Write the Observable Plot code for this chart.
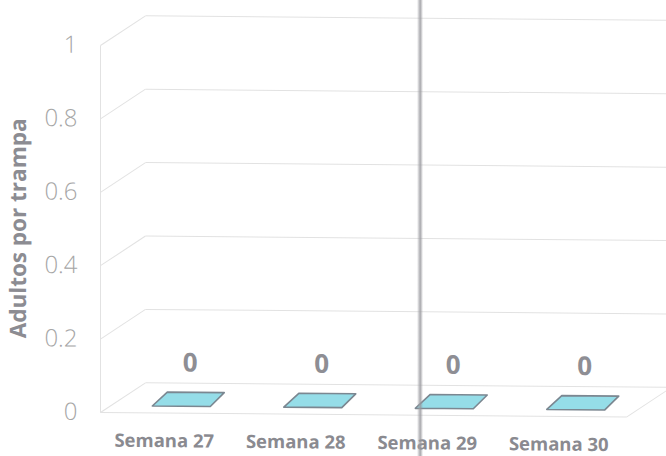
<!DOCTYPE html>
<html><head><meta charset="utf-8">
<script src="https://cdn.jsdelivr.net/npm/d3@7"></script>
<script src="https://cdn.jsdelivr.net/npm/@observablehq/plot@0.6"></script>
<style>
html,body{margin:0;padding:0;background:#fff;overflow:hidden}
#chart{position:relative;width:666px;height:456px}
#fold{position:absolute;left:417px;top:0;width:6px;height:456px;pointer-events:none;
background:linear-gradient(to right, rgba(200,200,205,0), rgba(160,160,165,0.7) 40%, rgba(150,150,155,0.75) 60%, rgba(200,200,205,0));}
</style></head><body>
<div id="chart"><div id="fold"></div></div>
<script>
const categories = ["Semana 27", "Semana 28", "Semana 29", "Semana 30"];
const values = [0, 0, 0, 0];
const yTicks = [0, 0.2, 0.4, 0.6, 0.8, 1];
const yTitle = "Adultos por trampa";

// 3D look: depth offset of the back wall, in data units
const DX = 0.342, DY = 0.082;
const xLo = -0.5, xHi = categories.length - 0.5;

const bars = categories.map((c, i) => ({c, i, v: values[i]}));
const faceOffsets = [[-0.106, 0.019], [0.335, 0.019], [0.441, 0.057], [0.008, 0.057], [-0.106, 0.019]];
const faces = bars.flatMap(b => faceOffsets.map(([ox, oy]) => ({c: b.c, x: b.i + ox, y: b.v + oy})));

const gridLinks = [
  ...yTicks.map(v => ({x1: xLo + DX, y1: v + DY, x2: xHi + DX + 0.3, y2: v + DY})),
  ...yTicks.map(v => ({x1: xLo, y1: v, x2: xLo + DX, y2: v + DY})),
  {x1: xLo, y1: 0, x2: xHi, y2: 0},
  {x1: xHi, y1: 0, x2: xHi + DX, y2: DY},
  {x1: xLo, y1: 0, x2: xLo, y2: 1}
];

const chart = Plot.plot({
  width: 666, height: 456,
  marginLeft: 100, marginRight: 40, marginTop: 45, marginBottom: 44,
  x: {domain: [xLo, xHi], axis: null},
  y: {domain: [0, 1], axis: null},
  style: {fontFamily: "'Open Sans', sans-serif", background: "transparent", overflow: "visible"},
  marks: [
    Plot.link(gridLinks, {x1: "x1", y1: "y1", x2: "x2", y2: "y2", stroke: "#e2e2e2", strokeWidth: 1}),
    Plot.line(faces, {x: "x", y: "y", z: "c", fill: "#95dde8", stroke: "#7b8791", strokeWidth: 1.6}),
    Plot.text(bars, {x: "i", y: "v", text: d => String(d.v), dx: 24, dy: -50, fontSize: 26, fontWeight: "bold", fill: "#8e8e94"}),
    Plot.axisY({ticks: yTicks, tickFormat: d => String(d), tickSize: 0, tickPadding: 23, fontSize: 24, fontWeight: 300, color: "#a6a6a6", label: null}),
    Plot.axisX({ticks: categories.map((c, i) => i), tickFormat: i => categories[i], tickSize: 0, tickPadding: 21, fontSize: 18.5, fontWeight: "bold", color: "#8a8a90", label: null, dx: -2}),
    Plot.text([yTitle], {frameAnchor: "left", textAnchor: "middle", text: d => d, rotate: -90, dx: -82, fontSize: 22.5, fontWeight: "bold", fill: "#8c8c92"})
  ]
});
chart.style.position = "absolute";
chart.style.left = "0";
chart.style.top = "0";
chart.style.transformOrigin = "100px 0";
chart.style.transform = "skewY(0.5deg)";
document.getElementById("chart").prepend(chart);
</script>
</body></html>
